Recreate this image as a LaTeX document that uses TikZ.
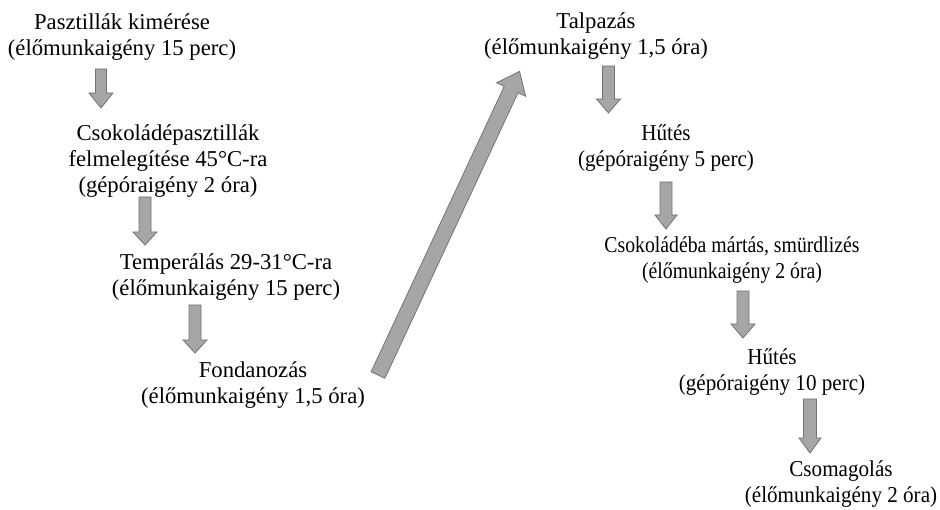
\documentclass[tikz,border=0pt]{standalone}
\usepackage{fontspec}
\setmainfont{Liberation Serif}
\newfontfamily\condm[FakeStretch=0.93]{Liberation Serif}
\newfontfamily\conds[FakeStretch=0.87]{Liberation Serif}
\tikzset{
  txt/.style={align=center, inner sep=0pt, font=\fontsize{22.7}{26}\selectfont},
  txtm/.style={align=center, inner sep=0pt, font=\condm\fontsize{22.7}{26}\selectfont},
  txts/.style={align=center, inner sep=0pt, font=\conds\fontsize{22.7}{26}\selectfont},
  arrowsty/.style={draw=black!55, fill=black!35, line width=0.8pt, line join=miter}
}
% #1 x, #2 y, #3 angle, #4 length, #5 shaft half, #6 head half, #7 head length
\newcommand{\blockarr}[7]{%
  \begin{scope}[shift={(#1,#2)}, rotate=#3]
    \draw[arrowsty] (0,-#5) -- ({#4-#7},-#5) -- ({#4-#7},-#6) -- (#4,0) -- ({#4-#7},#6) -- ({#4-#7},#5) -- (0,#5) -- cycle;
  \end{scope}}
\begin{document}
\begin{tikzpicture}[x=1pt,y=-1pt]
\useasboundingbox (0,0) rectangle (940,510);
\node[txt] (b1) at (122,37) {Pasztillák kimérése\\(élőmunkaigény 15 perc)};
\node[txt] (b2) at (168,161) {Csokoládépasztillák\\felmelegítése 45°C-ra\\(gépóraigény 2 óra)};
\node[txt] (b3) at (226,277) {Temperálás 29-31°C-ra\\(élőmunkaigény 15 perc)};
\node[txt] (b4) at (253,385) {Fondanozás\\(élőmunkaigény 1,5 óra)};
\node[txt] (r1) at (596,36) {Talpazás\\(élőmunkaigény 1,5 óra)};
\node[txtm] (r2) at (666,148) {Hűtés\\(gépóraigény 5 perc)};
\node[txts] (r3) at (732,260) {Csokoládéba mártás, smürdlizés\\(élőmunkaigény 2 óra)};
\node[txtm] (r4) at (772,372) {Hűtés\\(gépóraigény 10 perc)};
\node[txtm] (r5) at (841,484) {Csomagolás\\(élőmunkaigény 2 óra)};
% small arrows
\blockarr{101}{69}{-90}{39}{5.5}{12}{15}
\blockarr{145}{197}{-90}{48}{6}{12}{13}
\blockarr{195}{305}{-90}{48}{6}{12}{13}
\blockarr{608.5}{66}{-90}{47}{6}{12}{14}
\blockarr{666}{182}{-90}{47}{6}{11}{14}
\blockarr{743}{291}{-90}{47}{6}{12}{14}
\blockarr{810}{399}{-90}{54}{6.5}{11}{15}
% big arrow
\blockarr{378}{375}{65}{335}{7.6}{16}{20}
\end{tikzpicture}
\end{document}
